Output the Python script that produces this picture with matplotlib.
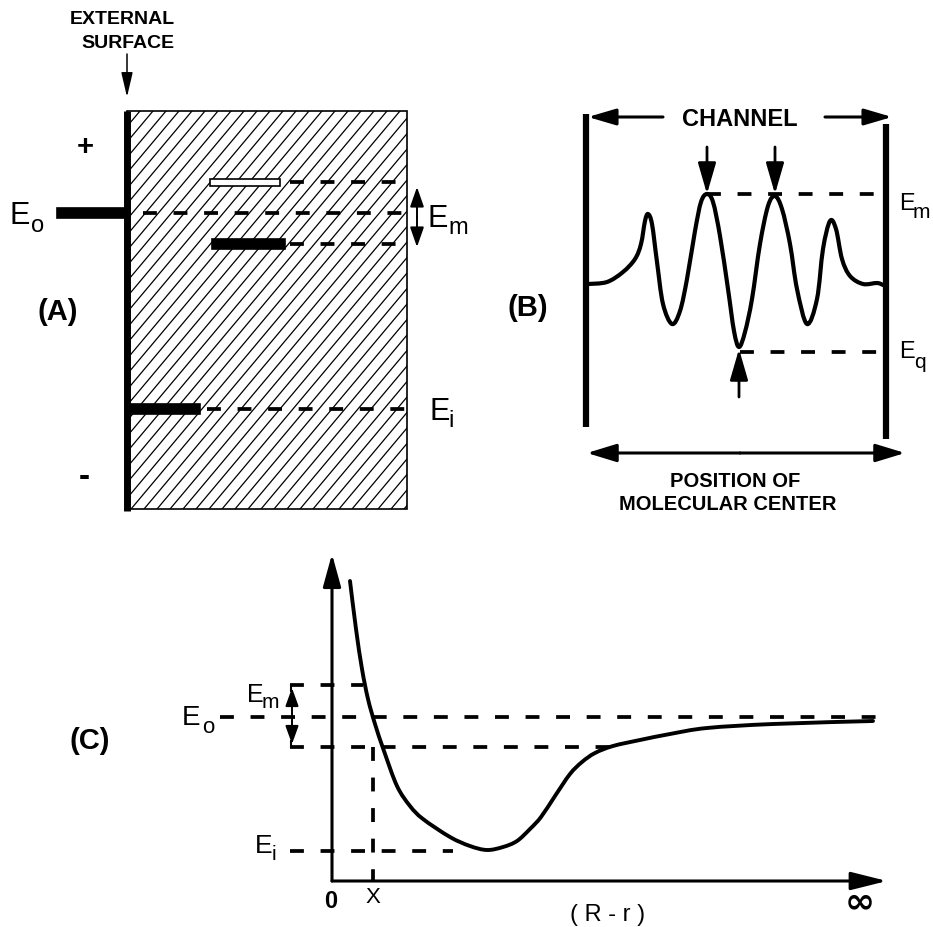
import numpy as np
import matplotlib
matplotlib.use('Agg')
import matplotlib.pyplot as plt
from matplotlib.patches import Rectangle, PathPatch
from matplotlib.path import Path

plt.rcParams['font.family'] = ['Liberation Sans', 'DejaVu Sans']
plt.rcParams['lines.scale_dashes'] = False

# ---- panel A : surface levels (pixel coords, y down) ----
a_rect = (127, 112, 407, 510)          # x0, y0, x1, y1 of hatched solid
a_bar_x0 = [57, 210, 212, 130]         # Eo bar, open bar, filled bar, Ei bar
a_bar_x1 = [127, 280, 285, 200]
a_bar_y = [214, 183, 245, 410]
a_bar_h = [10, 7, 10, 10]
a_bar_fill = ['black', 'white', 'black', 'black']
a_dash_x0 = [143, 290, 290, 207]
a_dash_x1 = [405, 400, 398, 407]

# ---- panel B : potential along the channel ----
b_curve_x = [588, 607, 623, 635, 641, 645, 648, 652, 657, 663, 672, 680, 687, 695,
             701, 707, 713, 720, 728, 734, 739, 745, 752, 760, 768, 775, 782, 790, 797,
             807, 817, 823, 830, 836, 842, 850, 863, 877, 883]
b_curve_y = [285, 283, 273, 260, 245, 222, 215, 225, 263, 305, 325, 312, 280, 232,
             203, 195, 203, 237, 290, 332, 348, 333, 300, 245, 207, 197, 210, 245, 290,
             325, 300, 250, 222, 230, 260, 277, 285, 284, 286]
b_em_y = 195
b_eq_y = 353

# ---- panel C : energy vs distance ----
c_curve_x = [350, 356, 362, 368, 375, 384, 397, 410, 423, 450, 470, 487, 503, 517, 530,
             541, 555, 570, 582, 595, 613, 640, 670, 707, 773, 873]
c_curve_y = [582, 630, 670, 700, 725, 752, 787, 807, 820, 838, 847, 851, 848, 842, 830,
             818, 797, 775, 763, 754, 747, 741, 735, 729, 725, 722]
c_eo_y = 718
c_em_top = 686
c_em_bot = 748
c_ei_y = 852
c_x_pos = 373
c_origin = (332, 882)

fig = plt.figure(figsize=(9.33, 9.28), dpi=100)
ax = fig.add_axes([0, 0, 1, 1])
ax.set_xlim(0, 933)
ax.set_ylim(928, 0)
ax.axis('off')

DASH = (0, (10, 12))
DLW = 2.7


def arrow(tail, tip, lw, hl, hw, both=False):
    style = '<|-|>' if both else '-|>'
    ax.annotate('', xy=tip, xytext=tail,
                arrowprops=dict(arrowstyle=f'{style},head_length={hl},head_width={hw}',
                                lw=lw, color='black', shrinkA=0, shrinkB=0,
                                mutation_scale=1))


def smooth_curve(xs, ys, lw):
    # catmull-rom through the read points, drawn as bezier segments
    pts = np.column_stack([xs, ys]).astype(float)
    p = np.vstack([pts[0], pts, pts[-1]])
    verts = [pts[0]]
    codes = [Path.MOVETO]
    for i in range(1, len(p) - 2):
        p0, p1, p2, p3 = p[i - 1], p[i], p[i + 1], p[i + 2]
        verts += [p1 + (p2 - p0) / 6, p2 - (p3 - p1) / 6, p2]
        codes += [Path.CURVE4] * 3
    ax.add_patch(PathPatch(Path(verts, codes), fc='none', ec='black', lw=lw,
                           capstyle='round', joinstyle='round'))


def elabel(x, y, sub, size, subsize, dx, dy):
    ax.text(x, y, 'E', fontsize=size, ha='left', va='center')
    ax.text(x + dx, y + dy, sub, fontsize=subsize, ha='left', va='center')


# ---------------- (A) ----------------
x0, y0, x1, y1 = a_rect
rect = Rectangle((x0, y0), x1 - x0, y1 - y0, fc='none', ec='black', lw=1.2)
ax.add_patch(rect)
k = np.tan(np.radians(50))
for b in np.arange(y0 + k * x0, y1 + k * x1, 13 * k):
    ln, = ax.plot([x0, x1], [b - k * x0, b - k * x1], color='black', lw=0.9)
    ln.set_clip_path(rect)
ax.plot([127, 127], [112, 512], color='black', lw=5, solid_capstyle='butt')

for xa, xb, y, h, fc in zip(a_bar_x0, a_bar_x1, a_bar_y, a_bar_h, a_bar_fill):
    ax.add_patch(Rectangle((xa, y - h / 2), xb - xa, h, fc=fc, ec='black', lw=1.2, zorder=3))
for xa, xb, y in zip(a_dash_x0, a_dash_x1, a_bar_y):
    ax.plot([xa, xb], [y, y], color='black', lw=DLW, linestyle=DASH, zorder=3)

ax.text(122, 20, 'EXTERNAL', fontsize=14, fontweight='bold', ha='center', va='center')
ax.text(128, 43, 'SURFACE', fontsize=14, fontweight='bold', ha='center', va='center')
arrow((127, 55), (127, 98), 1.1, 15, 3.5)
ax.text(85, 147, '+', fontsize=21, fontweight='bold', ha='center', va='center')
ax.text(84, 478, '-', fontsize=24, fontweight='bold', ha='center', va='center')
ax.text(58, 312, '(A)', fontsize=21, fontweight='bold', ha='center', va='center')
arrow((417, 218), (417, 188), 1.4, 12, 4.2)
arrow((417, 218), (417, 248), 1.4, 12, 4.2)
elabel(9, 216, 'o', 22, 17, 22, 10)
elabel(428, 219, 'm', 22, 17, 20, 9)
elabel(429, 412, 'i', 22, 17, 19, 9)

# ---------------- (B) ----------------
ax.plot([586, 586], [115, 428], color='black', lw=4.5, solid_capstyle='butt')
ax.plot([886, 886], [125, 440], color='black', lw=4.5, solid_capstyle='butt')
smooth_curve(b_curve_x, b_curve_y, 3)
ax.plot([707, 875], [b_em_y, b_em_y], color='black', lw=DLW, linestyle=DASH)
ax.plot([740, 883], [b_eq_y, b_eq_y], color='black', lw=DLW, linestyle=DASH)
arrow((663, 118), (588, 118), 2.2, 17, 5)
arrow((825, 118), (892, 118), 2.2, 17, 5)
ax.text(740, 120, 'CHANNEL', fontsize=17, fontweight='bold', ha='center', va='center')
arrow((707, 148), (707, b_em_y), 2.0, 19, 5.5)
arrow((775, 148), (775, b_em_y), 2.0, 19, 5.5)
arrow((739, 398), (739, 350), 2.0, 19, 5.5)
arrow((740, 454), (587, 454), 2.2, 18, 5.5)
arrow((740, 454), (905, 454), 2.2, 18, 5.5)
ax.text(735, 482, 'POSITION OF', fontsize=14.5, fontweight='bold', ha='center', va='center')
ax.text(728, 505, 'MOLECULAR CENTER', fontsize=14.5, fontweight='bold', ha='center', va='center')
ax.text(528, 308, '(B)', fontsize=21, fontweight='bold', ha='center', va='center')
elabel(899, 204, 'm', 17, 15, 14, 8)
elabel(899, 352, 'q', 17, 15, 15, 11)

# ---------------- (C) ----------------
ox, oy = c_origin
arrow((ox, oy), (ox, 555), 2.2, 20, 5.5)
arrow((ox, oy), (887, oy), 2.2, 22, 5.5)
smooth_curve(c_curve_x, c_curve_y, 2.8)
ax.plot([220, 885], [c_eo_y, c_eo_y], color='black', lw=DLW, linestyle=DASH)
ax.plot([290, 363], [c_em_top, c_em_top], color='black', lw=DLW, linestyle=DASH)
ax.plot([290, 613], [c_em_bot, c_em_bot], color='black', lw=DLW, linestyle=DASH)
ax.plot([290, 453], [c_ei_y, c_ei_y], color='black', lw=DLW, linestyle=DASH)
ax.plot([c_x_pos, c_x_pos], [c_em_bot, oy], color='black', lw=DLW, linestyle=DASH)
ax.plot([291, 291], [c_em_top, c_em_top + 6], color='black', lw=1.5)
ax.plot([291, 291], [c_em_bot - 6, c_em_bot], color='black', lw=1.5)
arrow((292, 717), (292, c_em_top + 3), 1.4, 11, 4)
arrow((292, 717), (292, c_em_bot - 3), 1.4, 11, 4)
ax.text(90, 741, '(C)', fontsize=21, fontweight='bold', ha='center', va='center')
elabel(182, 718, 'o', 20, 16, 20, 10)
elabel(247, 695, 'm', 18, 15, 15, 8)
elabel(255, 846, 'i', 19, 15, 17, 9)
ax.text(331, 902, '0', fontsize=17, fontweight='bold', ha='center', va='center')
ax.text(373, 898, 'X', fontsize=16, ha='center', va='center')
ax.text(860, 902, '\u221e', fontsize=26, fontweight='bold', ha='center', va='center',
        family=['DejaVu Sans'])
ax.text(608, 915, '( R - r )', fontsize=17, ha='center', va='center')

fig.savefig('out.png', dpi=100, facecolor='white')
